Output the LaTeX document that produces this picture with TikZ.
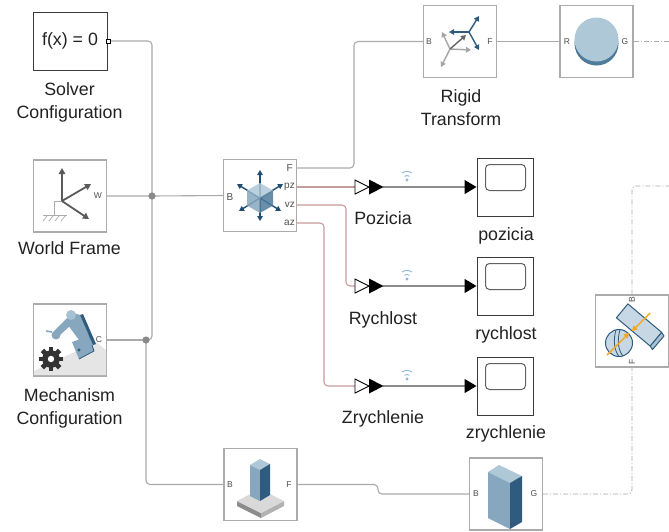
\documentclass[tikz,border=0pt]{standalone}
\usepackage{fontspec}
\setmainfont{Liberation Sans}
\usetikzlibrary{arrows.meta}

\definecolor{txt}{HTML}{222222}
\definecolor{blkedge}{HTML}{ABABAB}
\definecolor{darkedge}{HTML}{3A3A3A}
\definecolor{physc}{HTML}{ABABAB}
\definecolor{sigred}{HTML}{C79C9C}
\definecolor{sgray}{HTML}{8C8C8C}
\definecolor{dotc}{HTML}{8A8A8A}
\definecolor{bl1}{HTML}{AFC8D8}
\definecolor{bl2}{HTML}{86A7BE}
\definecolor{bl3}{HTML}{4F7B9B}
\definecolor{bl4}{HTML}{2F5C7E}
\definecolor{navy}{HTML}{1F4E73}
\definecolor{wifi}{HTML}{8FB8DE}
\definecolor{orng}{HTML}{F5A623}
\definecolor{iconGray}{HTML}{5A5A5A}

\begin{document}
\begin{tikzpicture}[x=1pt,y=-1pt,
  blk/.style={draw=blkedge, line width=1.1pt, fill=white, minimum width=73pt,
    minimum height=72pt, inner sep=0pt},
  dblk/.style={blk, draw=darkedge, line width=1pt},
  lbl/.style={font=\fontsize{17.8}{21}\selectfont, text=txt, anchor=base, inner sep=0pt},
  plbl/.style={font=\fontsize{8.5}{10}\selectfont, text=txt!80, inner sep=0pt},
  slbl/.style={font=\fontsize{10}{12}\selectfont, text=txt!80, inner sep=0pt},
  phys/.style={draw=physc, line width=1.1pt, rounded corners=4pt},
  sig/.style={draw=sigred, line width=1.1pt, rounded corners=4pt},
  sarrow/.style={draw=sgray, line width=1.1pt,
    -{Triangle[length=12pt,width=14pt,color=black]}},
  ddash/.style={draw=physc, line width=0.9pt, rounded corners=4pt,
    dash pattern=on 5pt off 2pt on 1pt off 2pt},
  farrow/.style={line width=1.8pt, -{Triangle[length=6pt,width=6.5pt]}},
  tarrow/.style={line width=1.4pt, -{Triangle[length=5pt,width=5.5pt]}},
]
\useasboundingbox (0,0) rectangle (669,531);
\fill[white] (0,0) rectangle (669,531);

% ---------------- blocks ----------------
\node[dblk, minimum width=74pt, minimum height=58pt] (solver) at (70,41)
  {\fontsize{17.8}{21}\selectfont\color{txt}f(x) = 0};
\node[blk] (world) at (70,196) {};
\node[blk] (mech) at (70,340) {};
\node[blk] (sensor) at (260,195.5) {};
\node[blk] (rigid) at (460,41.5) {};
\node[blk] (solid) at (596.5,41.5) {};
\node[blk] (base) at (260.5,484.5) {};
\node[blk] (brick) at (506,494) {};
\node[blk] (joint) at (632,331) {};
\node[dblk, minimum width=56pt, minimum height=58pt] (scopeP) at (505,187) {};
\node[dblk, minimum width=56pt, minimum height=58pt] (scopeR) at (505,286) {};
\node[dblk, minimum width=56pt, minimum height=58pt] (scopeZ) at (505,386) {};

% scope screens
\foreach \s in {scopeP,scopeR,scopeZ}{
  \draw[darkedge!80, line width=1pt, rounded corners=4pt]
    ([shift={(9,7)}]\s.north west) rectangle ([shift={(49,33)}]\s.north west);
}

% port coordinates
\coordinate (solverport) at (110,41);
\coordinate (sF) at (297,168);
\coordinate (spz) at (297,187);
\coordinate (svz) at (297,205);
\coordinate (saz) at (297,223);
\coordinate (j1) at (152,196);
\coordinate (j2) at (146,340);
\coordinate (gotoP) at (355,187);
\coordinate (gotoR) at (355,286);
\coordinate (gotoZ) at (355,386);
\coordinate (gotoPout) at (383,187);
\coordinate (gotoRout) at (383,286);
\coordinate (gotoZout) at (383,386);
\coordinate (outR) at (669,41.5);
\coordinate (outJ) at (669,186);

% ---------------- connections ----------------
\draw[phys] (solverport) -| (j1);
\draw[phys] (j1) |- (j2);
\draw[phys] (world.east) -- (j1) -- (sensor.west);
\draw[phys] (mech.east) -- (j2);
\draw[phys] (j2) |- (base.west);
\draw[phys] (sF) -- (354,168) -- (354,41.5) -- (rigid.west);
\draw[phys] (rigid.east) -- (solid.west);
\draw[ddash] (solid.east) -- (outR);
\draw[phys] (base.east) -- (378,484.5) -- (378,494) -- (brick.west);
\draw[ddash] (brick.east) -| (joint.south);
\draw[ddash] (joint.north) |- (outJ);

\draw[sig] (spz) -- (gotoP);
\draw[sig] (svz) -- (346,205) -- (346,286) -- (gotoR);
\draw[sig] (saz) -- (324,223) -- (324,386) -- (gotoZ);

\draw[sarrow] (gotoPout) -- (scopeP.west);
\draw[sarrow] (gotoRout) -- (scopeR.west);
\draw[sarrow] (gotoZout) -- (scopeZ.west);

% goto tags and wireless marks
\foreach \g/\yy in {gotoP/187,gotoR/286,gotoZ/386}{
  \draw[black, line width=0.9pt, fill=white, line join=miter]
    (\g) ++(0,-7) -- ++(14,7) -- ++(-14,7) -- cycle;
  \fill[black] (\g) ++(14,-7.5) -- ++(14.5,7.5) -- ++(-14.5,7.5) -- cycle;
  \fill[wifi] (407,\yy-7) circle (1.6);
  \draw[wifi, line width=0.9pt] (407,\yy-7) ++(-2.6,-3.7) arc[start angle=235, end angle=305, radius=4.5];
  \draw[wifi, line width=0.9pt] (407,\yy-7) ++(-4.9,-7) arc[start angle=235, end angle=305, radius=8.5];
}

% junction dots
\fill[dotc] (j1) circle (3.6);
\fill[dotc] (j2) circle (3.6);

% solver port
\draw[black, line width=0.8pt, fill=white] (106.5,39) rectangle (110.5,43);

% ---------------- labels ----------------
\node[lbl] (lSolver1) at (69.5,95) {Solver};
\node[lbl] (lSolver2) at (69.5,118) {Configuration};
\node[lbl] (lWorld) at (69.5,254) {World Frame};
\node[lbl] (lMech1) at (69.5,401) {Mechanism};
\node[lbl] (lMech2) at (69.5,424) {Configuration};
\node[lbl] (lRigid1) at (461,102) {Rigid};
\node[lbl] (lRigid2) at (461,125) {Transform};
\node[lbl] (lPoz) at (383,224) {Pozicia};
\node[lbl] (lRych) at (383,324) {Rychlost};
\node[lbl] (lZry) at (383,423) {Zrychlenie};
\node[lbl] (lpoz) at (506,240) {pozicia};
\node[lbl] (lrych) at (506,339) {rychlost};
\node[lbl] (lzry) at (506,438) {zrychlenie};

% port labels
\node[plbl] (pW) at (98,196) {W};
\node[plbl] (pC) at (99,340) {C};
\node[slbl] (psB) at (230,197) {B};
\node[slbl, anchor=east] (psF) at (293,168) {F};
\node[slbl, anchor=east] (pspz) at (295,187) {pz};
\node[slbl, anchor=east] (psvz) at (295,205) {vz};
\node[slbl, anchor=east] (psaz) at (295,223) {az};
\node[plbl] (prB) at (429,42) {B};
\node[plbl] (prF) at (490,42) {F};
\node[plbl] (psR) at (567,42) {R};
\node[plbl] (psG) at (625,42) {G};
\node[plbl] (pbB) at (230,484.5) {B};
\node[plbl] (pbF) at (289,484.5) {F};
\node[plbl] (pkB) at (476,494) {B};
\node[plbl] (pkG) at (534,494) {G};
\node[plbl, rotate=90] (pjB) at (632,300) {B};
\node[plbl, rotate=90] (pjF) at (632,362) {F};

% ---------------- icons ----------------
% world frame
\draw[blkedge, line width=0.8pt] (62,201) -- (54,201) -- (54,215);
\draw[blkedge, line width=0.8pt] (43,215) -- (67,215);
\foreach \h in {47,53,59,65}{
  \draw[blkedge, line width=0.7pt] (\h,216) -- (\h-4,221);
}
\draw[farrow, iconGray] (62,201) -- (62,168);
\draw[farrow, iconGray] (62,201) -- (91,184);
\draw[farrow, iconGray] (62,201) -- (89,219);

% mechanism configuration
\fill[black!10] (34,375) -- (34,371) -- (96,342) -- (106,350) -- (106,375) -- cycle;
\fill[bl2] (72,342) -- (89,336) -- (94,351) -- (79,359) -- cycle;
\draw[bl4, line width=0.8pt] (89,336) -- (94,351) -- (79,359);
\fill[bl4] (79,350) circle (1.6);
\fill[bl2] (65,321) -- (71,312) -- (80,315) -- (93,345) -- (85,348) -- cycle;
\fill[bl4] (80,315) -- (83,314) -- (96,344) -- (93,345) -- cycle;
\fill[bl1!80!bl2] (71,315) circle (5);
\fill[bl2] (66,319) -- (71,325) -- (60,335) -- (54,331) -- cycle;
\fill[bl2] (56,335) circle (4.5);
\draw[bl2, line width=1.6pt] (52,332) -- (46,331);
\fill[black!80] (51,359) circle (8.8);
\foreach \a in {0,45,...,315}{
  \fill[black!80, rotate around={\a:(51,359)}] (48.6,346.8) rectangle (53.4,352);
}
\fill[white] (51,359) circle (3.2);

% transform sensor
\draw[tarrow, navy] (260,198) -- (260,170);
\draw[tarrow, navy] (260,198) -- (260,221);
\draw[tarrow, navy] (260,198) -- (237,184);
\draw[tarrow, navy] (260,198) -- (283,184);
\draw[tarrow, navy] (260,198) -- (239,211);
\draw[tarrow, navy] (260,198) -- (281,211);
\fill[bl1, opacity=0.85] (260,183) -- (273,190.5) -- (260,198) -- (247,190.5) -- cycle;
\fill[bl2, opacity=0.85] (247,190.5) -- (260,198) -- (260,213) -- (247,205.5) -- cycle;
\fill[bl3, opacity=0.85] (260,198) -- (273,190.5) -- (273,205.5) -- (260,213) -- cycle;

% rigid transform
\draw[tarrow, black!35] (450,49) -- (442,32);
\draw[tarrow, black!35] (450,49) -- (471,50);
\draw[tarrow, black!35] (450,49) -- (441,67);
\draw[tarrow, black!60] (450,49) -- (466,35);
\draw[tarrow, bl4] (469,32) -- (479,16);
\draw[tarrow, bl4] (469,32) -- (449,32);
\draw[tarrow, bl4] (469,32) -- (479,50);

% solid
\fill[bl3] (596.5,43.5) circle (22);
\fill[bl1] (596.5,39.5) circle (22);

% base with column
\fill[black!45] (237,501) -- (261,513) -- (261,518) -- (237,506) -- cycle;
\fill[black!30] (261,513) -- (284,501) -- (284,506) -- (261,518) -- cycle;
\fill[black!15] (237,501) -- (260,489) -- (284,501) -- (261,513) -- cycle;
\fill[bl1] (250,465) -- (260,459) -- (270,464) -- (260,470) -- cycle;
\fill[bl2] (250,465) -- (260,470) -- (260,501) -- (250,496) -- cycle;
\fill[bl4] (260,470) -- (270,464) -- (270,495) -- (260,501) -- cycle;

% brick
\fill[bl1] (488,472) -- (499,465) -- (522,476) -- (510,483) -- cycle;
\fill[bl2] (488,472) -- (510,483) -- (510,529) -- (488,518) -- cycle;
\fill[bl4] (510,483) -- (522,476) -- (522,522) -- (510,529) -- cycle;

% contact joint
\fill[bl1!70, draw=bl4, line width=1pt] (619,343) circle (13.5);
\draw[bl4, line width=0.8pt] (616,330) .. controls (613,340) and (614,350) .. (619,356.5);
\draw[bl4, line width=0.8pt] (620,329.7) .. controls (617,340) and (618,350) .. (623,356);
\fill[bl2!70, draw=bl4, line width=1pt, line join=round]
  (661.6,332.3) -- (664,336) -- (652.5,349.5) -- (650.1,346) -- cycle;
\fill[bl1!70, draw=bl4, line width=1pt, line join=round]
  (650.1,346) -- (661.6,332.3) -- (627.9,303.9) -- (616.4,317.8) -- cycle;
\draw[tarrow, orng] (607,355) -- (629,333);
\draw[tarrow, orng] (650,313) -- (632,331);

\end{tikzpicture}
\end{document}
